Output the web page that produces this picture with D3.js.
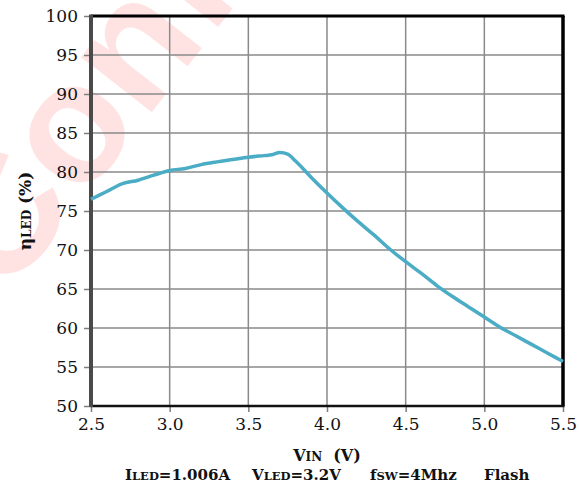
<!DOCTYPE html>
<html><head><meta charset="utf-8">
<script src="https://cdn.jsdelivr.net/npm/d3@7"></script>
<style>body{margin:0;background:#fff}svg{display:block}</style>
</head><body>
<script>
const vin = [2.5,2.6,2.7,2.8,2.9,3.0,3.1,3.2,3.3,3.4,3.5,3.6,3.65,3.7,3.75,3.8,3.9,4.0,4.1,4.2,4.3,4.4,4.5,4.6,4.7,4.8,4.9,5.0,5.1,5.2,5.3,5.4,5.5];
const eff = [76.5,77.5,78.5,78.95,79.6,80.2,80.45,80.95,81.3,81.6,81.9,82.1,82.2,82.5,82.3,81.4,79.3,77.3,75.4,73.6,71.9,70.1,68.5,67.0,65.4,64.0,62.7,61.4,60.1,59.0,57.9,56.8,55.7];
const xTicks = [2.5,3.0,3.5,4.0,4.5,5.0,5.5];
const yTicks = [50,55,60,65,70,75,80,85,90,95,100];

const W=579,H=495;
const L=91,R=563,T=16,B=406;
const svg=d3.select("body").append("svg").attr("width",W).attr("height",H);

// watermark
svg.append("text").attr("transform","translate(5,300) rotate(-52)")
  .attr("font-family","Liberation Sans").attr("font-weight","bold").attr("font-size",170)
  .attr("fill","#ff0000").attr("fill-opacity",0.11).text("Confidential");

const x=d3.scaleLinear().domain([2.5,5.5]).range([L,R]);
const y=d3.scaleLinear().domain([50,100]).range([B,T]);

const font="DejaVu Serif";
// grid
svg.append("g").selectAll("line").data(yTicks.slice(1,-1)).join("line")
  .attr("x1",L).attr("x2",R).attr("y1",d=>y(d)).attr("y2",d=>y(d))
  .attr("stroke","#8a8a8a").attr("stroke-width",1.5);
svg.append("g").selectAll("line").data(xTicks.slice(1,-1)).join("line")
  .attr("y1",T).attr("y2",B).attr("x1",d=>x(d)).attr("x2",d=>x(d))
  .attr("stroke","#8a8a8a").attr("stroke-width",1.5);

// axes
const ya=svg.append("g").attr("transform",`translate(${L},0)`)
  .call(d3.axisLeft(y).tickValues(yTicks).tickSize(7).tickPadding(6).tickFormat(d3.format("d")));
ya.select(".domain").remove();
ya.selectAll(".tick line").attr("stroke","#7f7f7f").attr("stroke-width",1.5);
ya.selectAll("text").attr("font-family",font).attr("font-size",17).attr("fill","#111");

const xa=svg.append("g").attr("transform",`translate(0,${B})`)
  .call(d3.axisBottom(x).tickValues(xTicks).tickSize(6).tickPadding(6).tickFormat(d3.format(".1f")));
xa.select(".domain").remove();
xa.selectAll(".tick line").attr("stroke","#7f7f7f").attr("stroke-width",1.5);
xa.selectAll("text").attr("font-family",font).attr("font-size",17).attr("fill","#111");

// borders
svg.append("line").attr("x1",L).attr("x2",R+1.5).attr("y1",T).attr("y2",T).attr("stroke","#000").attr("stroke-width",3);
svg.append("line").attr("x1",R).attr("x2",R).attr("y1",T).attr("y2",B).attr("stroke","#000").attr("stroke-width",3.5);
svg.append("line").attr("x1",L).attr("x2",R+1.5).attr("y1",B).attr("y2",B).attr("stroke","#111").attr("stroke-width",2.5);
svg.append("line").attr("x1",L).attr("x2",L).attr("y1",T-1.5).attr("y2",B+1).attr("stroke","#4a4a4a").attr("stroke-width",4);

// line
const pts=vin.map((v,i)=>[v,eff[i]]);
svg.append("path").datum(pts).attr("fill","none").attr("stroke","#4bacc6").attr("stroke-width",3.5)
  .attr("stroke-linejoin","round")
  .attr("d",d3.line().x(d=>x(d[0])).y(d=>y(d[1])).curve(d3.curveMonotoneX));

// axis titles
const xt=svg.append("text").attr("x",(L+R)/2).attr("y",461).attr("text-anchor","middle")
  .attr("font-family",font).attr("font-weight","bold").attr("font-size",16).attr("fill","#111")
  .attr("xml:space","preserve");
xt.append("tspan").text("V");
xt.append("tspan").attr("font-size",12).text("IN");
xt.append("tspan").text("  (V)");

const yt=svg.append("text").attr("transform","translate(31,211) rotate(-90)").attr("text-anchor","middle")
  .attr("font-family",font).attr("font-weight","bold").attr("font-size",17).attr("fill","#111");
yt.append("tspan").text("η");
yt.append("tspan").attr("font-size",12).text("LED");
yt.append("tspan").text(" (%)");

// footer
const foot=[[125,"I","LED","=1.006A"],[252,"V","LED","=3.2V"],[370,"f","SW","=4Mhz"],[484,"Flash","",""]];
foot.forEach(f=>{
  const t=svg.append("text").attr("x",f[0]).attr("y",480).attr("font-family",font)
    .attr("font-weight","bold").attr("font-size",15).attr("fill","#111");
  t.append("tspan").text(f[1]);
  if(f[2]) t.append("tspan").attr("font-size",11.5).text(f[2]);
  if(f[3]) t.append("tspan").text(f[3]);
});
</script>
</body></html>
